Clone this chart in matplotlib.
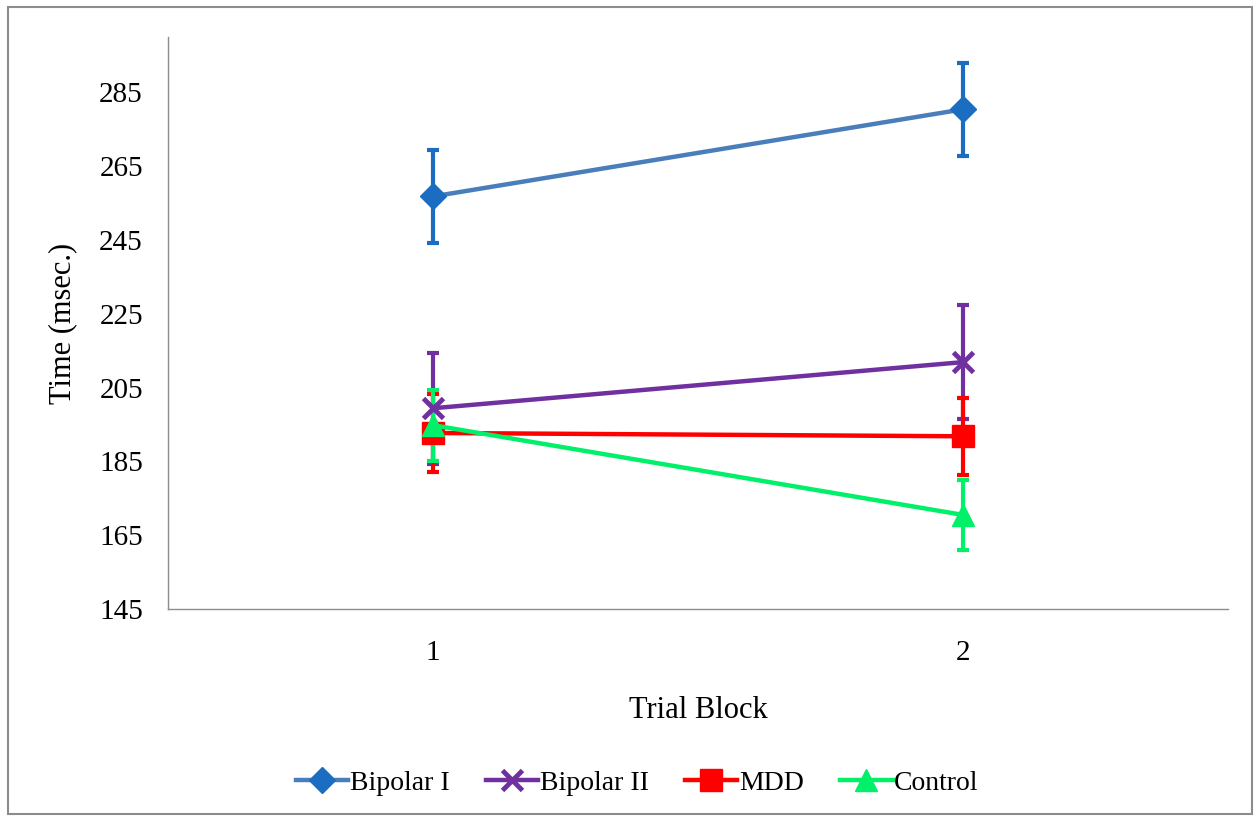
import numpy as np
import matplotlib.pyplot as plt
from matplotlib.patches import Rectangle

plt.rcParams['font.family'] = ['Liberation Serif', 'DejaVu Serif']

blocks = [1, 2]
groups = ['Bipolar I', 'Bipolar II', 'MDD', 'Control']
bip1 = [256.8, 280.4]
bip1_err = [12.5, 12.6]
bip2 = [199.4, 211.9]
bip2_err = [15.0, 15.4]
mdd = [192.7, 191.8]
mdd_err = [10.5, 10.4]
control = [194.8, 170.5]
control_err = [9.6, 9.4]

series = [
    (bip1, bip1_err, '#4A7EBB', '#1B6DC1', 'D', 13),
    (bip2, bip2_err, '#7030A0', '#7030A0', 'x', 15),
    (mdd, mdd_err, '#FF0000', '#FF0000', 's', 16),
    (control, control_err, '#00F06A', '#00F06A', '^', 16),
]

fig = plt.figure(figsize=(12.59, 8.18), dpi=100)
ax = fig.add_axes([168/1259, 1-609/818, (1228-168)/1259, (609-37)/818])

for (vals, err, lc, mc, mk, ms), name in zip(series, groups):
    ax.errorbar(blocks, vals, yerr=err, fmt='none', ecolor=mc, elinewidth=3,
                capsize=4.5, capthick=3, zorder=2)
    ax.plot(blocks, vals, color=lc, lw=3.2, marker=mk, ms=ms, mfc=mc, mec=mc,
            mew=3.5 if mk == 'x' else 1, label=name, zorder=3)

ax.set_xlim(0.5, 2.5)
ax.set_ylim(145, 300)
ax.set_yticks(np.arange(145, 300, 20))
ax.set_xticks(blocks)
ax.tick_params(length=0, labelsize=21)
ax.tick_params(axis='y', pad=18)
ax.tick_params(axis='x', pad=22)
ax.spines['top'].set_visible(False)
ax.spines['right'].set_visible(False)
for s in ['left', 'bottom']:
    ax.spines[s].set_color('#8C8C8C')
    ax.spines[s].set_linewidth(1)

ax.set_ylabel('Time (msec.)', fontsize=22, labelpad=16)
ax.set_xlabel('Trial Block', fontsize=22, labelpad=22)

fig.legend(loc='center', bbox_to_anchor=(0.506, 1-783/818), ncol=4, frameon=False,
           fontsize=20, handlelength=1.9, columnspacing=1.3, handletextpad=0.05)

fig.patches.append(Rectangle((8/1259, 0.005), 1244/1259, 1-7/818-0.005,
                             transform=fig.transFigure, fill=False,
                             edgecolor='#8C8C8C', lw=1.5))

fig.savefig('out.png', dpi=100)
